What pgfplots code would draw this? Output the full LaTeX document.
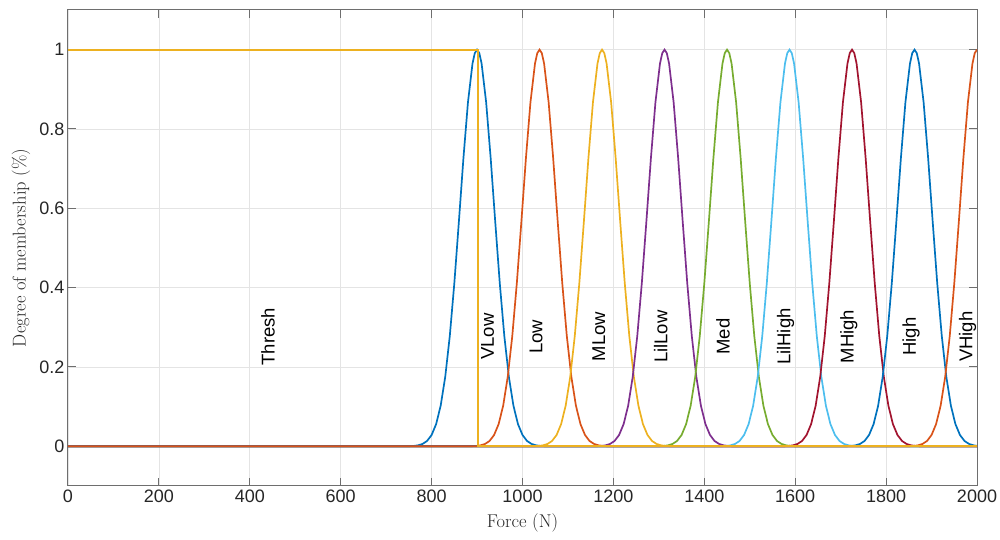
\documentclass[border=0pt]{standalone}
\usepackage{fontspec}
\usepackage{pgfplots}
\pgfplotsset{compat=1.18}
\newfontfamily\arial{Liberation Sans}
\definecolor{mblue}{RGB}{0,114,189}
\definecolor{morange}{RGB}{217,83,25}
\definecolor{myellow}{RGB}{237,177,32}
\definecolor{mpurple}{RGB}{126,47,142}
\definecolor{mgreen}{RGB}{119,172,48}
\definecolor{mlblue}{RGB}{77,190,238}
\definecolor{mred}{RGB}{162,20,47}
\definecolor{tickgray}{RGB}{38,38,38}
\definecolor{axgray}{RGB}{110,110,110}
\definecolor{gridgray}{RGB}{228,228,228}
\tikzset{mflabel/.style={rotate=90, anchor=center, font=\arial\fontsize{18.5}{18.5}\selectfont, text=black, inner sep=0pt}}
\begin{document}
\begin{tikzpicture}
\begin{axis}[
  scale only axis, width=909pt, height=476pt,
  xmin=0, xmax=2000, ymin=-0.1, ymax=1.1,
  xtick={0,200,400,600,800,1000,1200,1400,1600,1800,2000},
  ytick={0,0.2,0.4,0.6,0.8,1},
  grid=major, major grid style={color=gridgray, line width=0.8pt},
  axis line style={color=axgray, line width=1pt},
  major tick style={color=axgray, line width=1pt}, major tick length=8pt,
  tick align=inside,
  ticklabel style={font=\arial\fontsize{18}{18}\selectfont, text=tickgray},
  /pgf/number format/assume math mode=true,
  /pgf/number format/1000 sep={},
  scaled x ticks=false,
  xlabel={Force (N)}, ylabel={Degree of membership (\%)},
  label style={font=\fontsize{18.5}{20}\selectfont, text=tickgray},
  xlabel style={at={(axis description cs:0.5,-0.0777)}, anchor=center},
  ylabel style={at={(axis description cs:-0.0517,0.5)}, anchor=center},
  no markers,
]
% VLow
\addplot[draw=mblue, line width=1.7pt] coordinates {(0,0) (750,0.0003) (760,0.0009) (770,0.0025) (780,0.0060) (790,0.0135) (800,0.0286) (810,0.0561) (820,0.1027) (830,0.1752) (840,0.2780) (850,0.4111) (860,0.5661) (870,0.7261) (880,0.8674) (890,0.9651) (895,0.9912) (900,1) (905,0.9912) (910,0.9651) (920,0.8674) (930,0.7261) (940,0.5661) (950,0.4111) (960,0.2780) (970,0.1752) (980,0.1027) (990,0.0561) (1000,0.0286) (1010,0.0135) (1020,0.0060) (1030,0.0025) (1040,0.0009) (1050,0.0003) (2000,0)};
% Low
\addplot[draw=morange, line width=1.7pt] coordinates {(0,0) (887.5,0.0003) (897.5,0.0009) (907.5,0.0025) (917.5,0.0060) (927.5,0.0135) (937.5,0.0286) (947.5,0.0561) (957.5,0.1027) (967.5,0.1752) (977.5,0.2780) (987.5,0.4111) (997.5,0.5661) (1007.5,0.7261) (1017.5,0.8674) (1027.5,0.9651) (1032.5,0.9912) (1037.5,1) (1042.5,0.9912) (1047.5,0.9651) (1057.5,0.8674) (1067.5,0.7261) (1077.5,0.5661) (1087.5,0.4111) (1097.5,0.2780) (1107.5,0.1752) (1117.5,0.1027) (1127.5,0.0561) (1137.5,0.0286) (1147.5,0.0135) (1157.5,0.0060) (1167.5,0.0025) (1177.5,0.0009) (1187.5,0.0003) (2000,0)};
% MLow
\addplot[draw=myellow, line width=1.7pt] coordinates {(0,0) (1025,0.0003) (1035,0.0009) (1045,0.0025) (1055,0.0060) (1065,0.0135) (1075,0.0286) (1085,0.0561) (1095,0.1027) (1105,0.1752) (1115,0.2780) (1125,0.4111) (1135,0.5661) (1145,0.7261) (1155,0.8674) (1165,0.9651) (1170,0.9912) (1175,1) (1180,0.9912) (1185,0.9651) (1195,0.8674) (1205,0.7261) (1215,0.5661) (1225,0.4111) (1235,0.2780) (1245,0.1752) (1255,0.1027) (1265,0.0561) (1275,0.0286) (1285,0.0135) (1295,0.0060) (1305,0.0025) (1315,0.0009) (1325,0.0003) (2000,0)};
% LilLow
\addplot[draw=mpurple, line width=1.7pt] coordinates {(0,0) (1162.5,0.0003) (1172.5,0.0009) (1182.5,0.0025) (1192.5,0.0060) (1202.5,0.0135) (1212.5,0.0286) (1222.5,0.0561) (1232.5,0.1027) (1242.5,0.1752) (1252.5,0.2780) (1262.5,0.4111) (1272.5,0.5661) (1282.5,0.7261) (1292.5,0.8674) (1302.5,0.9651) (1307.5,0.9912) (1312.5,1) (1317.5,0.9912) (1322.5,0.9651) (1332.5,0.8674) (1342.5,0.7261) (1352.5,0.5661) (1362.5,0.4111) (1372.5,0.2780) (1382.5,0.1752) (1392.5,0.1027) (1402.5,0.0561) (1412.5,0.0286) (1422.5,0.0135) (1432.5,0.0060) (1442.5,0.0025) (1452.5,0.0009) (1462.5,0.0003) (2000,0)};
% Med
\addplot[draw=mgreen, line width=1.7pt] coordinates {(0,0) (1300,0.0003) (1310,0.0009) (1320,0.0025) (1330,0.0060) (1340,0.0135) (1350,0.0286) (1360,0.0561) (1370,0.1027) (1380,0.1752) (1390,0.2780) (1400,0.4111) (1410,0.5661) (1420,0.7261) (1430,0.8674) (1440,0.9651) (1445,0.9912) (1450,1) (1455,0.9912) (1460,0.9651) (1470,0.8674) (1480,0.7261) (1490,0.5661) (1500,0.4111) (1510,0.2780) (1520,0.1752) (1530,0.1027) (1540,0.0561) (1550,0.0286) (1560,0.0135) (1570,0.0060) (1580,0.0025) (1590,0.0009) (1600,0.0003) (2000,0)};
% LilHigh
\addplot[draw=mlblue, line width=1.7pt] coordinates {(0,0) (1437.5,0.0003) (1447.5,0.0009) (1457.5,0.0025) (1467.5,0.0060) (1477.5,0.0135) (1487.5,0.0286) (1497.5,0.0561) (1507.5,0.1027) (1517.5,0.1752) (1527.5,0.2780) (1537.5,0.4111) (1547.5,0.5661) (1557.5,0.7261) (1567.5,0.8674) (1577.5,0.9651) (1582.5,0.9912) (1587.5,1) (1592.5,0.9912) (1597.5,0.9651) (1607.5,0.8674) (1617.5,0.7261) (1627.5,0.5661) (1637.5,0.4111) (1647.5,0.2780) (1657.5,0.1752) (1667.5,0.1027) (1677.5,0.0561) (1687.5,0.0286) (1697.5,0.0135) (1707.5,0.0060) (1717.5,0.0025) (1727.5,0.0009) (1737.5,0.0003) (2000,0)};
% MHigh
\addplot[draw=mred, line width=1.7pt] coordinates {(0,0) (1575,0.0003) (1585,0.0009) (1595,0.0025) (1605,0.0060) (1615,0.0135) (1625,0.0286) (1635,0.0561) (1645,0.1027) (1655,0.1752) (1665,0.2780) (1675,0.4111) (1685,0.5661) (1695,0.7261) (1705,0.8674) (1715,0.9651) (1720,0.9912) (1725,1) (1730,0.9912) (1735,0.9651) (1745,0.8674) (1755,0.7261) (1765,0.5661) (1775,0.4111) (1785,0.2780) (1795,0.1752) (1805,0.1027) (1815,0.0561) (1825,0.0286) (1835,0.0135) (1845,0.0060) (1855,0.0025) (1865,0.0009) (1875,0.0003) (2000,0)};
% High
\addplot[draw=mblue, line width=1.7pt] coordinates {(0,0) (1712.5,0.0003) (1722.5,0.0009) (1732.5,0.0025) (1742.5,0.0060) (1752.5,0.0135) (1762.5,0.0286) (1772.5,0.0561) (1782.5,0.1027) (1792.5,0.1752) (1802.5,0.2780) (1812.5,0.4111) (1822.5,0.5661) (1832.5,0.7261) (1842.5,0.8674) (1852.5,0.9651) (1857.5,0.9912) (1862.5,1) (1867.5,0.9912) (1872.5,0.9651) (1882.5,0.8674) (1892.5,0.7261) (1902.5,0.5661) (1912.5,0.4111) (1922.5,0.2780) (1932.5,0.1752) (1942.5,0.1027) (1952.5,0.0561) (1962.5,0.0286) (1972.5,0.0135) (1982.5,0.0060) (1992.5,0.0025) (2000,0.0012)};
% VHigh
\addplot[draw=morange, line width=1.7pt] coordinates {(0,0) (1850,0.0003) (1860,0.0009) (1870,0.0025) (1880,0.0060) (1890,0.0135) (1900,0.0286) (1910,0.0561) (1920,0.1027) (1930,0.1752) (1940,0.2780) (1950,0.4111) (1960,0.5661) (1970,0.7261) (1980,0.8674) (1990,0.9651) (1995,0.9912) (2000,1)};
% Thresh
\addplot[draw=myellow, line width=2pt] table {
x y
0 1
901 1
901 0
2000 0
};
\node[mflabel] at (axis cs:440,0.2765) {Thresh};
\node[mflabel] at (axis cs:923,0.2765) {VLow};
\node[mflabel] at (axis cs:1030,0.2765) {Low};
\node[mflabel] at (axis cs:1168,0.2765) {MLow};
\node[mflabel] at (axis cs:1304,0.2765) {LilLow};
\node[mflabel] at (axis cs:1441,0.2765) {Med};
\node[mflabel] at (axis cs:1579,0.2765) {LilHigh};
\node[mflabel] at (axis cs:1718,0.2765) {MHigh};
\node[mflabel] at (axis cs:1855,0.2765) {High};
\node[mflabel] at (axis cs:1979,0.2765) {VHigh};
\end{axis}
\pgfresetboundingbox
\path[use as bounding box] ([xshift=-68pt,yshift=-54pt]current axis.south west) rectangle ([xshift=23pt,yshift=10pt]current axis.north east);
\end{tikzpicture}
\end{document}
